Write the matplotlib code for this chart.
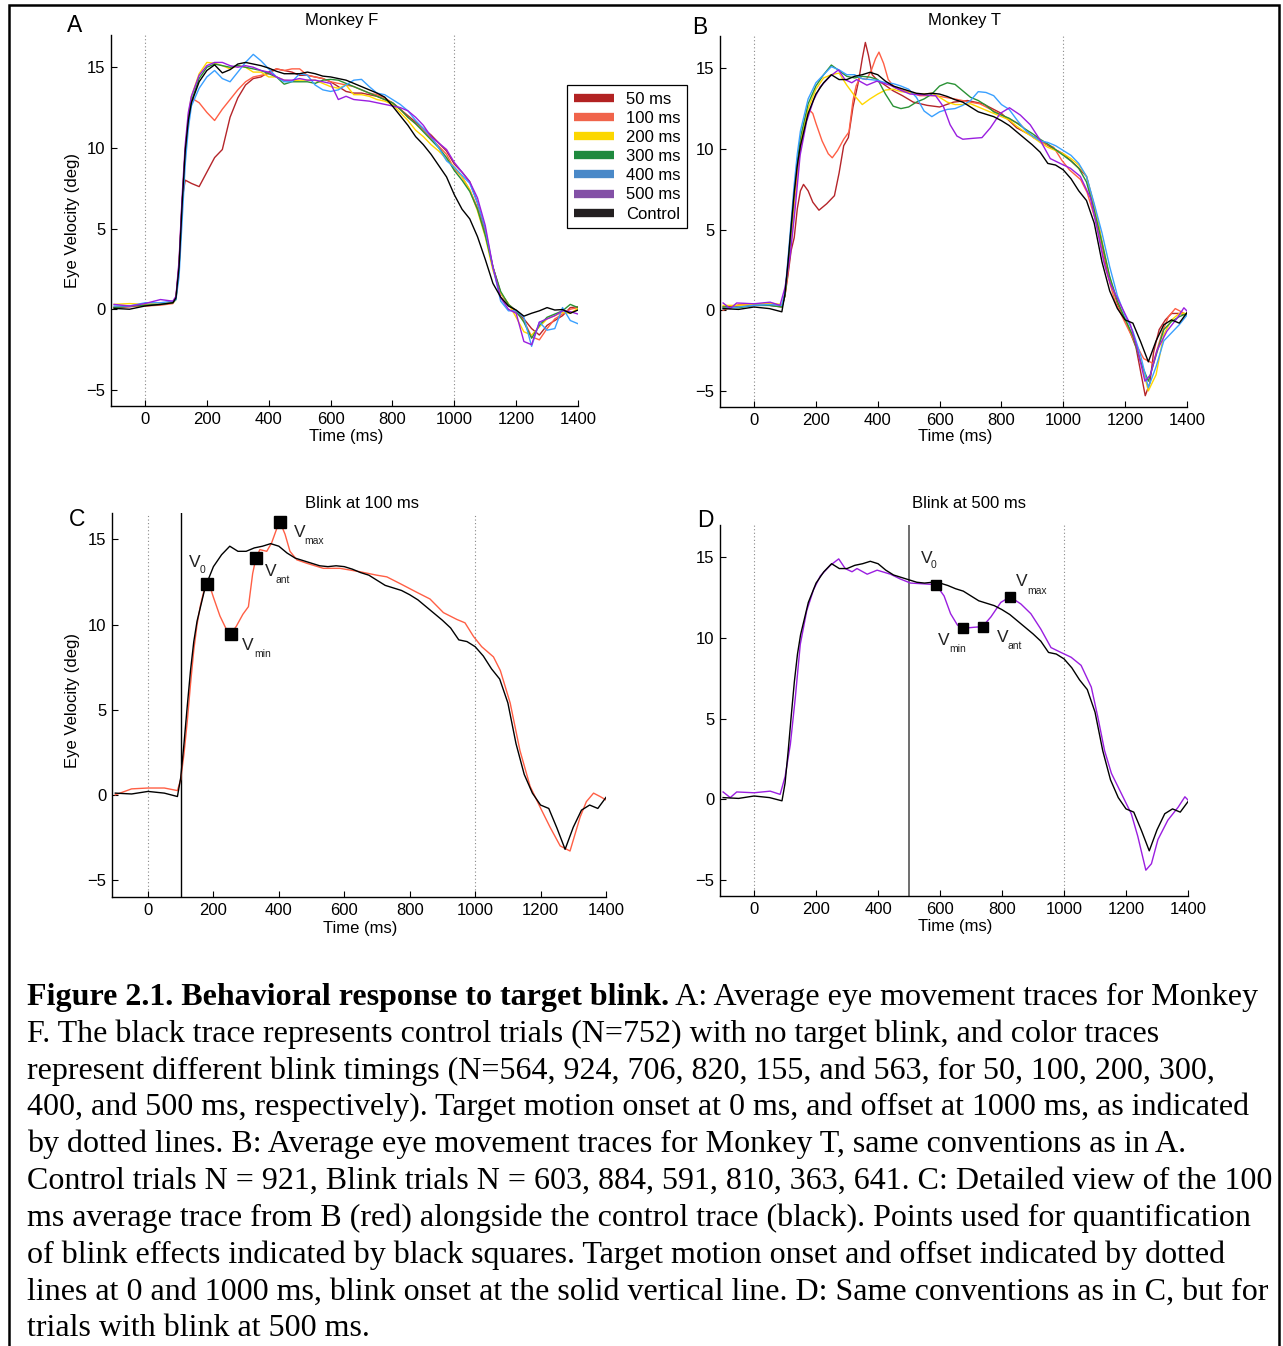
import matplotlib
matplotlib.use("Agg")
import matplotlib.pyplot as plt
from matplotlib.lines import Line2D
from matplotlib.patches import Rectangle

plt.rcParams['font.family'] = ['Liberation Sans', 'DejaVu Sans']
plt.rcParams['axes.unicode_minus'] = True

# ---------------- data ----------------
LABELS = ['50 ms', '100 ms', '200 ms', '300 ms', '400 ms', '500 ms', 'Control']
LEGEND_COLORS = ['#B22222', '#F0644B', '#FCD700', '#1F8A3E', '#4A89C8', '#8350A6', '#231F20']
LINE_COLORS = ['#B5252A', '#FF5F45', '#FFD700', '#2A9235', '#3AA0FF', '#9A1EE0', '#000000']

X_TICKS = [0, 200, 400, 600, 800, 1000, 1200, 1400]
Y_TICKS = [-5, 0, 5, 10, 15]
MOTION_LINES = [0, 1000]

T_GRID = [-100, -50, 0, 50, 90, 100, 110, 120, 130, 140, 150, 175, 200, 225, 250, 275, 300, 325,
          350, 375, 400, 425, 450, 475, 500, 525, 550, 575, 600, 625, 650, 675, 700, 725, 750,
          775, 800, 825, 850, 875, 900, 925, 950, 975, 1000, 1025, 1050, 1075, 1100, 1125, 1150,
          1175, 1200, 1225, 1250, 1275, 1300, 1325, 1350, 1375, 1400]

# Monkey F (panel A)
F_50 = [0.1, 0.15, 0.25, 0.3, 0.4, 0.7, 2.8, 6.8, 8.0, 7.9, 7.8, 7.6, 8.5, 9.4, 9.9, 11.9, 13.1, 13.9,
        14.3, 14.4, 14.7, 14.9, 14.8, 14.7, 14.5, 14.5, 14.4, 14.3, 14.1, 13.8, 13.5, 13.4, 13.4, 13.3, 13.2,
        13.0, 12.8, 12.4, 12.0, 11.6, 11.2, 10.8, 10.3, 9.8, 9.0, 8.5, 7.9, 6.6, 4.8, 2.6, 1.0,
        0.3, -0.1, -0.6, -1.2, -1.6, -1.0, -0.7, -0.4, 0.1, 0.15]
F_100 = [0.15, 0.2, 0.2, 0.25, 0.35, 0.7, 2.7, 6.6, 9.9, 11.8, 13.1, 12.8, 12.2, 11.7, 12.4, 13.0, 13.6, 14.1,
         14.4, 14.5, 14.6, 14.9, 14.8, 14.9, 14.9, 14.5, 14.4, 14.3, 14.1, 14.0, 13.9, 13.8, 13.6, 13.4, 13.3,
         13.1, 12.8, 12.4, 11.9, 11.5, 11.1, 10.6, 10.1, 9.6, 8.7, 8.2, 7.4, 6.3, 4.7, 2.6, 1.0,
         0.3, -0.2, -0.7, -1.7, -1.9, -1.2, -0.6, -0.3, 0.0, 0.1]
F_200 = [0.3, 0.35, 0.3, 0.4, 0.4, 0.6, 2.5, 6.4, 9.9, 12.0, 13.2, 14.6, 15.3, 15.25, 15.1, 14.9, 15.1, 15.0,
         14.7, 14.7, 14.4, 14.4, 14.2, 14.15, 14.2, 14.2, 14.2, 14.0, 13.8, 13.7, 13.9, 13.3, 13.3, 13.2, 13.0,
         12.9, 12.7, 12.2, 11.7, 11.1, 10.7, 10.2, 9.8, 9.3, 8.8, 8.2, 7.4, 6.1, 4.5, 2.4, 1.0,
         0.35, -0.5, -1.4, -1.6, -1.1, -0.6, -0.4, -0.2, -0.25, 0.05]
F_300 = [0.1, 0.2, 0.25, 0.3, 0.4, 0.6, 2.6, 6.5, 9.8, 11.8, 12.9, 14.3, 15.0, 15.2, 15.1, 15.0, 15.1, 15.0,
         14.9, 14.8, 14.6, 14.4, 13.95, 14.1, 14.1, 14.1, 14.0, 14.2, 14.25, 14.2, 14.0, 13.8, 13.6, 13.4, 13.2,
         13.0, 12.8, 12.4, 11.9, 11.5, 11.0, 10.5, 10.0, 9.4, 8.6, 8.0, 7.3, 6.2, 4.6, 2.6, 1.1,
         0.3, -0.1, -0.8, -1.8, -1.0, -0.5, -0.3, -0.1, 0.3, 0.1]
F_400 = [0.2, 0.2, 0.4, 0.4, 0.5, 0.6, 2.0, 5.5, 9.0, 11.2, 12.6, 13.7, 14.4, 14.8, 14.3, 14.1, 14.7, 15.3,
         15.8, 15.4, 14.9, 14.4, 14.1, 14.1, 14.6, 14.5, 13.9, 13.6, 13.5, 13.6, 13.9, 14.2, 14.25, 13.8, 13.4,
         13.3, 13.0, 12.7, 12.3, 11.7, 11.2, 10.7, 10.0, 9.2, 8.8, 8.3, 7.8, 6.6, 5.0, 2.6, 0.5,
         -0.1, -0.1, -0.5, -2.3, -0.8, -1.3, -1.2, 0.1, -0.7, -0.9]
F_500 = [0.3, 0.2, 0.35, 0.6, 0.5, 0.8, 3.0, 7.0, 10.2, 12.2, 13.2, 14.5, 15.1, 15.3, 15.3, 15.1, 15.0, 15.1,
         15.0, 14.8, 14.7, 14.4, 14.2, 14.2, 14.3, 14.2, 14.2, 14.1, 14.0, 13.0, 13.2, 13.0, 12.95, 12.9, 12.8,
         12.7, 12.6, 12.5, 12.3, 11.9, 11.4, 10.7, 10.3, 9.9, 9.1, 8.5, 7.9, 6.9, 5.2, 2.6, 0.7,
         0.0, -0.25, -2.0, -2.2, -0.8, -0.6, -0.4, -0.1, -0.15, -0.3]
F_CTRL = [0.05, 0.0, 0.2, 0.3, 0.4, 0.7, 2.6, 6.5, 9.8, 11.7, 12.8, 14.1, 14.8, 15.15, 14.65, 14.85, 15.2, 15.3,
          15.2, 15.1, 14.95, 14.75, 14.6, 14.6, 14.6, 14.7, 14.6, 14.45, 14.4, 14.3, 14.2, 14.0, 13.8, 13.6, 13.4,
          13.15, 12.6, 12.0, 11.4, 10.7, 10.2, 9.6, 8.9, 8.2, 7.1, 6.2, 5.6, 4.5, 3.1, 1.6, 0.75,
          0.2, -0.05, -0.43, -0.25, -0.1, 0.1, -0.05, -0.02, -0.25, -0.05]

# Monkey T (panel B; also C and D)
T_50_TIME = [-100, -50, 0, 50, 90, 100, 110, 120, 130, 140, 150, 160, 175, 190, 210, 235, 260, 275, 290, 305,
             320, 338, 350, 360, 370, 382, 397, 420, 450, 480, 515, 560, 600, 645, 690, 740, 800, 850, 910,
             960, 1000, 1045, 1075, 1110, 1140, 1175, 1205, 1235, 1255, 1265, 1280, 1292, 1310, 1330, 1350,
             1375, 1400]
T_50 = [0.2, 0.25, 0.3, 0.3, 0.2, 0.9, 2.2, 3.7, 4.5, 6.3, 7.4, 7.8, 7.4, 6.7, 6.2, 6.6, 7.1, 8.5, 10.2, 10.7,
        12.6, 14.2, 15.6, 16.6, 15.8, 14.6, 14.3, 14.0, 13.6, 13.3, 12.9, 12.7, 12.6, 12.9, 13.0, 12.8, 12.2,
        11.3, 10.7, 10.1, 9.7, 8.9, 8.3, 5.7, 2.6, 0.4, -0.8, -2.3, -4.3, -5.3, -4.5, -2.6, -1.2, -0.6, -0.2,
        -0.2, -0.3]
T_100_TIME = [-100, -50, 0, 50, 90, 100, 110, 120, 130, 140, 150, 160, 170, 180, 190, 200, 220, 240, 253, 270,
              290, 307, 320, 330, 342, 363, 378, 393, 404, 419, 434, 455, 485, 536, 587, 648, 699, 730, 771,
              821, 862, 903, 944, 969, 995, 1020, 1056, 1077, 1107, 1137, 1168, 1198, 1229, 1260, 1290, 1321,
              1340, 1362, 1382, 1400]
T_100 = [0.0, 0.35, 0.4, 0.4, 0.25, 0.9, 2.4, 4.3, 6.5, 8.5, 10.0, 11.1, 11.9, 12.4, 12.2, 11.6, 10.5, 9.7,
         9.45, 9.9, 10.6, 11.05, 13.0, 13.9, 14.4, 14.3, 14.8, 15.6, 16.0, 15.3, 14.3, 13.8, 13.6, 13.3, 13.3,
         13.1, 12.9, 12.8, 12.4, 11.9, 11.5, 10.7, 10.3, 10.1, 9.3, 8.7, 8.1, 7.3, 5.4, 2.6, 0.5, -0.7, -1.9,
         -3.0, -3.3, -1.3, -0.4, 0.1, -0.1, -0.3]
T_200 = [0.3, 0.3, 0.35, 0.45, 0.35, 1.0, 2.8, 4.8, 7.0, 9.0, 10.4, 12.5, 13.7, 14.4, 14.6, 14.7, 13.95, 13.3,
         12.75, 13.1, 13.4, 13.65, 13.7, 13.55, 13.5, 13.4, 13.4, 13.45, 13.2, 12.9, 12.75, 12.75, 12.8, 12.6,
         12.4, 12.2, 12.0, 11.8, 11.4, 11.05, 10.75, 10.4, 10.1, 9.9, 9.7, 9.4, 9.0, 8.3, 6.5, 4.3, 2.0, 0.55,
         -0.55, -1.6, -3.1, -5.0, -4.0, -1.5, -0.6, -0.2, -0.2]
T_300 = [0.2, 0.15, 0.3, 0.3, 0.2, 0.9, 2.8, 5.0, 7.3, 9.3, 10.7, 12.8, 13.9, 14.6, 15.2, 14.85, 14.5, 14.4,
         14.5, 14.45, 14.3, 13.4, 12.65, 12.5, 12.6, 12.9, 13.1, 13.4, 13.9, 14.1, 14.0, 13.6, 13.2, 13.0, 12.7,
         12.3, 12.1, 11.9, 11.6, 11.25, 10.95, 10.6, 10.3, 9.95, 9.6, 9.25, 8.8, 7.95, 6.2, 4.2, 2.1, 0.55,
         -0.55, -1.6, -3.2, -4.4, -2.8, -1.2, -0.7, -0.4, -0.2]
T_400 = [0.1, 0.2, 0.3, 0.35, 0.3, 1.1, 3.2, 5.5, 7.8, 9.7, 11.1, 13.1, 14.1, 14.6, 15.1, 14.9, 14.6, 14.6,
         14.35, 14.3, 14.25, 14.1, 14.05, 13.9, 13.7, 13.2, 12.35, 12.0, 12.3, 12.45, 12.5, 12.7, 13.0, 13.55,
         13.5, 13.3, 12.75, 12.45, 11.8, 11.2, 10.8, 10.5, 10.4, 10.2, 9.9, 9.6, 9.1, 8.3, 6.6, 4.8, 2.7, 0.9,
         -0.35, -1.3, -2.8, -4.8, -3.5, -1.9, -1.4, -0.9, -0.3]
T_500_TIME = [-100, -77, -56, 0, 52, 84, 100, 117, 133, 149, 170, 192, 214, 246, 273, 294, 316, 332, 365, 397,
              440, 472, 505, 548, 587, 613, 634, 656, 675, 710, 737, 764, 796, 826, 861, 893, 925, 958, 990,
              1023, 1055, 1088, 1109, 1131, 1153, 1185, 1217, 1238, 1264, 1282, 1303, 1335, 1368, 1390, 1400]
T_500 = [0.45, 0.1, 0.45, 0.4, 0.5, 0.3, 1.4, 3.4, 6.3, 9.6, 11.7, 13.0, 13.85, 14.5, 14.9, 14.3, 14.1, 14.3,
         13.95, 14.2, 13.95, 13.65, 13.4, 13.35, 13.3, 12.6, 11.5, 10.8, 10.6, 10.66, 10.7, 11.3, 12.2, 12.55,
         12.1, 11.5, 10.55, 9.4, 9.1, 8.8, 8.3, 6.95, 5.1, 3.0, 1.6, 0.35, -0.9, -2.3, -4.4, -4.0, -2.5, -1.3,
         -0.5, 0.15, -0.05]
T_CTRL = [0.1, 0.05, 0.2, 0.1, -0.1, 1.0, 3.0, 5.2, 7.3, 9.0, 10.2, 12.2, 13.4, 14.1, 14.6, 14.3, 14.3, 14.5,
          14.6, 14.75, 14.6, 14.2, 13.9, 13.75, 13.6, 13.45, 13.4, 13.45, 13.4, 13.25, 13.05, 12.9, 12.6, 12.3,
          12.15, 12.0, 11.75, 11.45, 11.05, 10.65, 10.25, 9.8, 9.1, 9.0, 8.7, 8.15, 7.4, 6.8, 5.4, 3.0, 1.2,
          0.1, -0.6, -0.8, -1.95, -3.2, -1.9, -0.9, -0.6, -0.8, -0.15]

# quantification points (panel C: 100 ms blink, panel D: 500 ms blink)
C_POINT_T = [180, 253, 330, 404]
C_POINT_V = [12.4, 9.45, 13.9, 16.0]
D_POINT_T = [587, 675, 737, 826]
D_POINT_V = [13.3, 10.6, 10.7, 12.55]
POINT_SUBS = ['0', 'min', 'ant', 'max']
C_BLINK = 100
D_BLINK = 500

CAPTION_BOLD = "Figure 2.1. Behavioral response to target blink."
CAPTION_LINES = [
    " A: Average eye movement traces for Monkey",
    "F. The black trace represents control trials (N=752) with no target blink, and color traces",
    "represent different blink timings (N=564, 924, 706, 820, 155, and 563, for 50, 100, 200, 300,",
    "400, and 500 ms, respectively). Target motion onset at 0 ms, and offset at 1000 ms, as indicated",
    "by dotted lines. B: Average eye movement traces for Monkey T, same conventions as in A.",
    "Control trials N = 921, Blink trials N = 603, 884, 591, 810, 363, 641. C: Detailed view of the 100",
    "ms average trace from B (red) alongside the control trace (black). Points used for quantification",
    "of blink effects indicated by black squares. Target motion onset and offset indicated by dotted",
    "lines at 0 and 1000 ms, blink onset at the solid vertical line. D: Same conventions as in C, but for",
    "trials with blink at 500 ms.",
]

# ---------------- figure ----------------
W, H = 1283, 1346
fig = plt.figure(figsize=(W / 100, H / 100), dpi=100)
FS = 12


def fx(px):
    return px / W


def fy(py):
    return 1 - py / H


def make_ax(l, t, r, b, ylim):
    ax = fig.add_axes([fx(l), fy(b), fx(r - l), (b - t) / H])
    ax.set_xlim(-110, 1400)
    ax.set_ylim(*ylim)
    ax.set_xticks(X_TICKS)
    ax.set_yticks(Y_TICKS)
    for s in ['top', 'right']:
        ax.spines[s].set_visible(False)
    for s in ['left', 'bottom']:
        ax.spines[s].set_linewidth(1.0)
    ax.tick_params(direction='in', length=4, width=0.8, labelsize=FS, pad=4)
    for x in MOTION_LINES:
        ax.axvline(x, color='#888888', lw=0.8, ls=(0, (1, 2.2)), zorder=0)
    return ax


axA = make_ax(111, 35, 578, 406, (-6, 17))
axB = make_ax(720, 36, 1187, 407, (-6, 17))
axC = make_ax(112, 513, 606, 897, (-6, 16.55))
axD = make_ax(720, 525, 1188, 896, (-6, 17))

LW = 1.0
for vals, c in zip([F_50, F_100, F_200, F_300, F_400, F_500], LINE_COLORS[:6]):
    axA.plot(T_GRID, vals, color=c, lw=LW)
axA.plot(T_GRID, F_CTRL, color=LINE_COLORS[6], lw=LW)

series_B = [(T_50_TIME, T_50), (T_100_TIME, T_100), (T_GRID, T_200), (T_GRID, T_300),
            (T_GRID, T_400), (T_500_TIME, T_500)]
for (tt, vals), c in zip(series_B, LINE_COLORS[:6]):
    axB.plot(tt, vals, color=c, lw=LW)
axB.plot(T_GRID, T_CTRL, color=LINE_COLORS[6], lw=LW)

# Panel C
axC.axvline(C_BLINK, color='black', lw=1.0)
axC.plot(T_100_TIME, T_100, color=LINE_COLORS[1], lw=LW)
axC.plot(T_GRID, T_CTRL, color='black', lw=LW)
axC.plot(C_POINT_T, C_POINT_V, ls='none', marker='s', ms=9, color='black', zorder=5)

# Panel D
axD.axvline(D_BLINK, color='#555555', lw=1.2)
axD.plot(T_500_TIME, T_500, color=LINE_COLORS[5], lw=LW)
axD.plot(T_GRID, T_CTRL, color='black', lw=LW)
axD.plot(D_POINT_T, D_POINT_V, ls='none', marker='s', ms=7, color='black', zorder=5)

# V labels (position of "V" and subscript, in data coords)
C_LABEL_POS = [((144, 13.67), (168, 13.2)), ((306, 8.74), (349, 8.27)),
               ((376, 13.09), (413, 12.6)), ((465, 15.43), (508, 14.9))]
D_LABEL_POS = [((557, 14.9), (579, 14.5)), ((612, 9.84), (657, 9.34)),
               ((803, 10.0), (842, 9.47)), ((864, 13.5), (913, 12.9))]
for ax, poss in [(axC, C_LABEL_POS), (axD, D_LABEL_POS)]:
    for sub, (pv, ps) in zip(POINT_SUBS, poss):
        ax.text(pv[0], pv[1], 'V', fontsize=12.5, ha='center', va='center', color='#222222')
        ax.text(ps[0], ps[1], sub, fontsize=7.5, ha='center', va='center', color='#222222')

# legend
handles = [Line2D([0], [0], color=c, lw=6, solid_capstyle='butt') for c in LEGEND_COLORS]
leg = fig.legend(handles, LABELS, loc='upper left', bbox_to_anchor=(fx(567), fy(85)),
                 frameon=True, fancybox=False, edgecolor='black', framealpha=1, fontsize=FS,
                 handlelength=2.4, handletextpad=0.75, labelspacing=0.25, borderpad=0.4,
                 borderaxespad=0)
leg.get_frame().set_linewidth(0.9)

# titles, letters, axis labels
fig.text(fx(342), fy(20), 'Monkey F', fontsize=FS, ha='center', va='center')
fig.text(fx(964), fy(20), 'Monkey T', fontsize=FS, ha='center', va='center')
fig.text(fx(362), fy(503), 'Blink at 100 ms', fontsize=FS, ha='center', va='center')
fig.text(fx(969), fy(503), 'Blink at 500 ms', fontsize=FS, ha='center', va='center')
for letter, (px, py) in zip('ABCD', [(75, 25), (700, 27), (77, 520), (705, 521)]):
    fig.text(fx(px), fy(py), letter, fontsize=16.5, ha='center', va='center')
for px, py in [(73, 220), (73, 700)]:
    fig.text(fx(px), fy(py), 'Eye Velocity (deg)', fontsize=FS, rotation=90, ha='center', va='center')
for px, py in [(346, 436), (955, 437), (360, 929), (955, 926)]:
    fig.text(fx(px), fy(py), 'Time (ms)', fontsize=FS, ha='center', va='center')

# caption
CAP_FONT = ['Liberation Serif', 'DejaVu Serif']
CAP_SIZE = 23.0
x0, y0, dy = 27, 1005, 36.8
renderer = fig.canvas.get_renderer()
tb = fig.text(fx(x0), fy(y0), CAPTION_BOLD, fontsize=CAP_SIZE, fontweight='bold',
              family=CAP_FONT, ha='left', va='baseline')
bb = tb.get_window_extent(renderer=renderer)
fig.text(bb.x1 / W, fy(y0), CAPTION_LINES[0], fontsize=CAP_SIZE, family=CAP_FONT,
         ha='left', va='baseline')
for i, line in enumerate(CAPTION_LINES[1:], start=1):
    fig.text(fx(x0), fy(y0 + i * dy), line, fontsize=CAP_SIZE, family=CAP_FONT,
             ha='left', va='baseline')

# outer frame
fig.patches.append(Rectangle((fx(9), -0.05), fx(1279 - 9), fy(5) + 0.05,
                             transform=fig.transFigure, fill=False, edgecolor='black', lw=1.8))

fig.savefig('out.png', dpi=100)
